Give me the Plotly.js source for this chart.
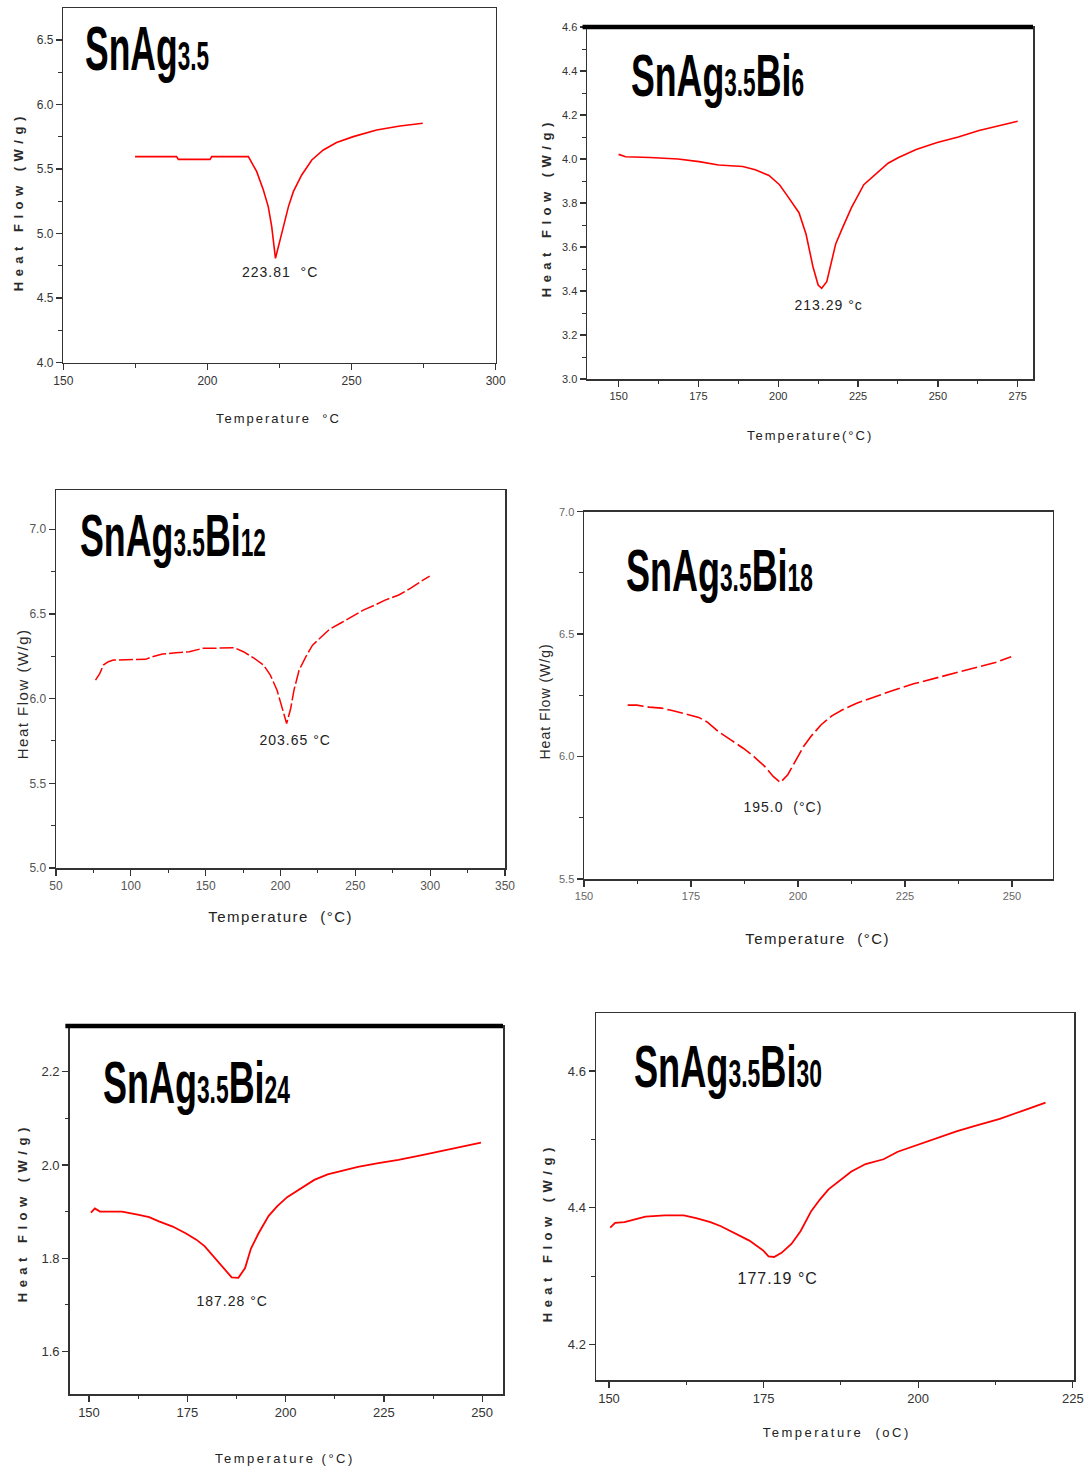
<!DOCTYPE html>
<html>
<head>
<meta charset="utf-8">
<script src="https://cdn.plot.ly/plotly-3.0.1.min.js"></script>
<style>
html,body{margin:0;padding:0;background:#ffffff;}
#chart{width:1086px;height:1472px;}
</style>
</head>
<body>
<div id="chart"></div>
<script>
// ================= DATA =================
// Panel 1: SnAg3.5
const tempSnAg35 = [174.9,189.3,189.9,200.9,201.5,214.2,217.1,219.4,221.1,222.3,223.6,224.6,226.3,228.1,229.8,232.7,236.2,240.2,244.8,250.6,258.7,266.8,274.7];
const flowSnAg35 = [5.596,5.596,5.575,5.575,5.596,5.596,5.480,5.338,5.209,5.054,4.808,4.899,5.054,5.209,5.325,5.454,5.570,5.648,5.705,5.751,5.803,5.834,5.855];

// Panel 2: SnAg3.5Bi6
const tempBi6 = [150.0,152.2,159.9,168.6,175.2,181.3,188.9,192.8,197.1,200.4,202.6,206.5,208.7,210.9,212.5,213.6,215.2,218.0,220.2,222.9,226.8,231.1,234.4,237.7,243.2,249.8,256.4,262.9,269.5,275.0];
const flowBi6 = [4.021,4.010,4.007,4.000,3.988,3.973,3.966,3.951,3.925,3.883,3.838,3.756,3.659,3.509,3.427,3.412,3.442,3.614,3.689,3.778,3.883,3.936,3.981,4.007,4.043,4.075,4.100,4.130,4.153,4.172];

// Panel 3: SnAg3.5Bi12
const tempBi12 = [76.4,79.3,81.6,85.0,88.3,94.0,105.3,109.8,114.3,121.1,130.1,139.1,148.1,159.4,169.5,175.2,182.0,188.7,193.2,197.7,201.1,204.1,206.8,209.0,212.4,216.9,221.4,227.1,232.7,240.6,247.4,255.3,263.2,269.9,279.0,286.8,293.6,299.7];
const flowBi12 = [6.109,6.149,6.198,6.218,6.228,6.228,6.228,6.232,6.247,6.263,6.271,6.277,6.297,6.300,6.300,6.277,6.241,6.198,6.139,6.050,5.952,5.853,5.942,6.050,6.168,6.247,6.316,6.366,6.409,6.448,6.484,6.523,6.553,6.582,6.612,6.651,6.691,6.724];

// Panel 4: SnAg3.5Bi18
const tempBi18 = [160.2,162.3,165.2,168.1,170.6,173.9,176.8,178.9,181.4,184.3,187.2,189.7,192.2,194.2,195.9,197.6,199.6,201.3,203.0,205.4,207.9,210.4,213.7,217.9,222.5,227.0,232.0,237.0,241.9,246.1,249.8];
const flowBi18 = [6.210,6.210,6.202,6.198,6.188,6.174,6.160,6.140,6.102,6.068,6.034,6.000,5.960,5.919,5.894,5.926,5.987,6.041,6.082,6.130,6.166,6.191,6.218,6.245,6.272,6.297,6.320,6.343,6.365,6.384,6.408];

// Panel 5: SnAg3.5Bi24
const tempBi24 = [150.5,151.5,152.8,158.4,162.7,165.3,167.8,171.3,174.7,177.3,179.4,181.6,184.1,186.3,188.0,189.7,191.2,193.1,195.7,197.9,200.4,204.7,207.3,210.7,214.1,218.4,223.6,228.7,234.7,240.7,245.9,249.7];
const flowBi24 = [1.898,1.907,1.900,1.900,1.893,1.888,1.879,1.868,1.853,1.840,1.826,1.805,1.779,1.759,1.758,1.779,1.821,1.853,1.891,1.912,1.931,1.953,1.968,1.980,1.987,1.996,2.004,2.011,2.021,2.032,2.040,2.048];

// Panel 6: SnAg3.5Bi30
const tempBi30 = [150.2,151.0,152.5,154.4,155.9,159.0,162.1,164.1,166.4,168.1,170.1,172.7,175.0,175.8,176.7,177.9,179.5,181.0,182.7,184.1,185.5,187.2,189.2,191.5,194.4,196.7,200.1,203.5,206.3,209.2,213.2,217.2,220.6];
const flowBi30 = [4.371,4.378,4.379,4.383,4.387,4.389,4.389,4.385,4.379,4.373,4.364,4.352,4.337,4.329,4.328,4.334,4.347,4.366,4.395,4.412,4.427,4.439,4.453,4.464,4.471,4.482,4.493,4.504,4.512,4.520,4.530,4.543,4.554];

// Tick values
const xTicks1 = [150,200,250,300];
const yTicks1 = [4.0,4.5,5.0,5.5,6.0,6.5];
const xTicks2 = [150,175,200,225,250,275];
const yTicks2 = [3.0,3.2,3.4,3.6,3.8,4.0,4.2,4.4,4.6];
const xTicks3 = [50,100,150,200,250,300,350];
const yTicks3 = [5.0,5.5,6.0,6.5,7.0];
const xTicks4 = [150,175,200,225,250];
const yTicks4 = [5.5,6.0,6.5,7.0];
const xTicks5 = [150,175,200,225,250];
const yTicks5 = [1.6,1.8,2.0,2.2];
const xTicks6 = [150,175,200,225];
const yTicks6 = [4.2,4.4,4.6];

// Labels
const panelTitles = [
  'SnAg<span style="font-size:40px">3.5</span>',
  'SnAg<span style="font-size:38px">3.5</span>Bi<span style="font-size:38px">6</span>',
  'SnAg<span style="font-size:38px">3.5</span>Bi<span style="font-size:38px">12</span>',
  'SnAg<span style="font-size:38px">3.5</span>Bi<span style="font-size:38px">18</span>',
  'SnAg<span style="font-size:38px">3.5</span>Bi<span style="font-size:38px">24</span>',
  'SnAg<span style="font-size:38px">3.5</span>Bi<span style="font-size:38px">30</span>'
];
const peakLabels = ['223.81\u00a0\u00a0°C','213.29\u00a0°c','203.65\u00a0°C','195.0\u00a0\u00a0(°C)','187.28\u00a0°C','177.19\u00a0°C'];
const peakPos = [[225.2,4.70],[215.8,3.337],[209.5,5.755],[196.5,5.796],[186.3,1.709],[177.3,4.296]];
const xTitles = ['Temperature\u00a0\u00a0°C','Temperature(°C)','Temperature\u00a0\u00a0(°C)','Temperature\u00a0\u00a0(°C)','Temperature\u00a0(°C)','Temperature\u00a0\u00a0(oC)'];
const yTitle = 'Heat Flow (W/g)';

// ================= LAYOUT / STYLE =================
const W = 1086, H = 1472;
const NARROW = 'Liberation Sans Narrow, Arial Narrow, Liberation Sans, Arial, sans-serif';
const SANS = 'Liberation Sans, Arial, sans-serif';

// plot boxes in px: [left, top, right, bottom]
const panels = [
  {x:tempSnAg35, y:flowSnAg35, box:[63.3,8.3,495.7,362.7], xr:[150,300], yr:[4.0,6.745], xt:xTicks1, yt:yTicks1, xm:25, ym:0.25, xf:'d', yf:'.1f', tf:{size:12,color:'#333'}, lw:1.6, dash:'solid',
   title:[83,48,124], yt_pos:[18,201], xt_pos:[278,418], ytStyle:{bold:true,size:13,ls:5.5}, xtStyle:{size:13,ls:2}},
  {x:tempBi6, y:flowBi6, box:[587,27,1033,379], xr:[140.1,279.8], yr:[3.0,4.6], xt:xTicks2, yt:yTicks2, xm:12.5, ym:0.1, xf:'d', yf:'.1f', tf:{size:11,color:'#333'}, lw:1.6, dash:'solid',
   title:[629,76,173], yt_pos:[546,207], xt_pos:[810,435], ytStyle:{bold:true,size:13,ls:5.5}, xtStyle:{size:13,ls:2}, thickTop:true},
  {x:tempBi12, y:flowBi12, box:[56,490,505,868], xr:[50,350], yr:[5.0,7.232], xt:xTicks3, yt:yTicks3, xm:25, ym:0.25, xf:'d', yf:'.1f', tf:{size:12,color:'#555'}, lw:1.5, dash:'14px,3px',
   title:[78,536,186], yt_pos:[22,694], xt_pos:[280,916], ytStyle:{bold:false,size:15,ls:1.5}, xtStyle:{size:15,ls:1.5}},
  {x:tempBi18, y:flowBi18, box:[584,511.7,1052.7,879], xr:[150,259.5], yr:[5.5,7.0], xt:xTicks4, yt:yTicks4, xm:12.5, ym:0.25, xf:'d', yf:'.1f', tf:{size:11,color:'#666'}, lw:1.6, dash:'16px,4px',
   title:[624,571,187], yt_pos:[545,702], xt_pos:[817,938], ytStyle:{bold:false,size:14,ls:1}, xtStyle:{size:15,ls:1.5}},
  {x:tempBi24, y:flowBi24, box:[69.7,1026,503,1394], xr:[145.1,255.3], yr:[1.509,2.298], xt:xTicks5, yt:yTicks5, xm:12.5, ym:0.1, xf:'d', yf:'.1f', tf:{size:13,color:'#333'}, lw:1.8, dash:'solid',
   title:[101,1082,187], yt_pos:[22,1212], xt_pos:[285,1458], ytStyle:{bold:true,size:13,ls:5.5}, xtStyle:{size:13,ls:2.5}, thickTop:true},
  {x:tempBi30, y:flowBi30, box:[596,1013,1074,1380], xr:[147.9,225.2], yr:[4.148,4.685], xt:xTicks6, yt:yTicks6, xm:12.5, ym:0.1, xf:'d', yf:'.1f', tf:{size:13,color:'#333'}, lw:1.8, dash:'solid',
   title:[632,1066,188], yt_pos:[547,1232], xt_pos:[836,1432], ytStyle:{bold:true,size:13,ls:5.5}, xtStyle:{size:13,ls:2.5}}
];

const traces = [];
const layout = {
  width: W, height: H,
  margin: {l:0, r:0, t:0, b:0},
  paper_bgcolor: '#ffffff', plot_bgcolor: '#ffffff',
  showlegend: false,
  annotations: [], shapes: []
};
const effects = []; // post-render styling per annotation index

function addAnn(a, fx){ layout.annotations.push(a); effects.push(fx || null); }

panels.forEach((p, i) => {
  const n = i + 1;
  const xa = n === 1 ? 'xaxis' : 'xaxis' + n;
  const ya = n === 1 ? 'yaxis' : 'yaxis' + n;
  const xs = n === 1 ? 'x' : 'x' + n;
  const ys = n === 1 ? 'y' : 'y' + n;
  traces.push({
    type: 'scatter', mode: 'lines', x: p.x, y: p.y, xaxis: xs, yaxis: ys,
    line: {color: '#ff0000', width: p.lw, dash: p.dash}, hoverinfo: 'skip'
  });
  const common = {
    showline: true, mirror: true, linecolor: '#333333', linewidth: 1.5,
    ticks: 'outside', ticklen: 6, tickwidth: 1.3, tickcolor: '#333333',
    showgrid: false, zeroline: false, fixedrange: true,
    tickfont: {family: NARROW, size: p.tf.size, color: p.tf.color}
  };
  layout[xa] = Object.assign({}, common, {
    domain: [p.box[0] / W, p.box[2] / W], range: p.xr, anchor: ys,
    tickmode: 'array', tickvals: p.xt, tickformat: p.xf,
    minor: {ticks: 'outside', ticklen: 3.5, tickwidth: 1, tickcolor: '#333333', tick0: p.xt[0], dtick: p.xm, showgrid: false}
  });
  layout[ya] = Object.assign({}, common, {
    domain: [1 - p.box[3] / H, 1 - p.box[1] / H], range: p.yr, anchor: xs,
    tickmode: 'array', tickvals: p.yt, tickformat: p.yf,
    minor: {ticks: 'outside', ticklen: 3.5, tickwidth: 1, tickcolor: '#333333', tick0: p.yt[0], dtick: p.ym, showgrid: false}
  });
  if (p.thickTop) {
    layout.shapes.push({type: 'line', xref: xs + ' domain', yref: ys + ' domain',
      x0: -0.01, x1: 1.0, y0: 1, y1: 1, line: {color: '#000000', width: 4.5}});
  }
  // big compound label
  addAnn({xref: 'paper', yref: 'paper', x: p.title[0] / W, y: 1 - p.title[1] / H,
    xanchor: 'left', yanchor: 'middle', align: 'left', showarrow: false,
    text: panelTitles[i], font: {family: NARROW, size: n === 1 ? 63 : 60, color: '#000000', weight: 'bold'}},
    {w: p.title[2]});
  // peak label
  addAnn({xref: xs, yref: ys, x: peakPos[i][0], y: peakPos[i][1], xanchor: 'center', yanchor: 'middle',
    showarrow: false, text: peakLabels[i], font: {family: NARROW, size: n === 6 ? 16 : 14, color: '#222222'}},
    {ls: 1});
  // y title
  addAnn({xref: 'paper', yref: 'paper', x: p.yt_pos[0] / W, y: 1 - p.yt_pos[1] / H, xanchor: 'center', yanchor: 'middle',
    textangle: -90, showarrow: false, text: yTitle,
    font: {family: p.ytStyle.bold ? SANS : NARROW, size: p.ytStyle.size, color: '#2a2a2a', weight: p.ytStyle.bold ? 'bold' : 'normal'}},
    {ls: p.ytStyle.ls});
  // x title
  addAnn({xref: 'paper', yref: 'paper', x: p.xt_pos[0] / W, y: 1 - p.xt_pos[1] / H, xanchor: 'center', yanchor: 'middle',
    showarrow: false, text: xTitles[i], font: {family: NARROW, size: p.xtStyle.size, color: '#222222'}},
    {ls: p.xtStyle.ls});
});

Plotly.newPlot('chart', traces, layout, {staticPlot: true, displayModeBar: false}).then(() => {
  document.querySelectorAll('g.annotation').forEach(g => {
    const idx = +g.getAttribute('data-index');
    const fx = effects[idx];
    if (!fx) return;
    const t = g.querySelector('text');
    if (!t) return;
    if (fx.ls) t.style.letterSpacing = fx.ls + 'px';
    if (fx.w) {
      const bb = t.getBBox();
      if (bb.width > 0) {
        const s = fx.w / bb.width;
        t.style.transformBox = 'fill-box';
        t.style.transformOrigin = '0% 50%';
        t.style.transform = 'scaleX(' + s.toFixed(4) + ')';
      }
    }
  });
});
</script>
</body>
</html>
